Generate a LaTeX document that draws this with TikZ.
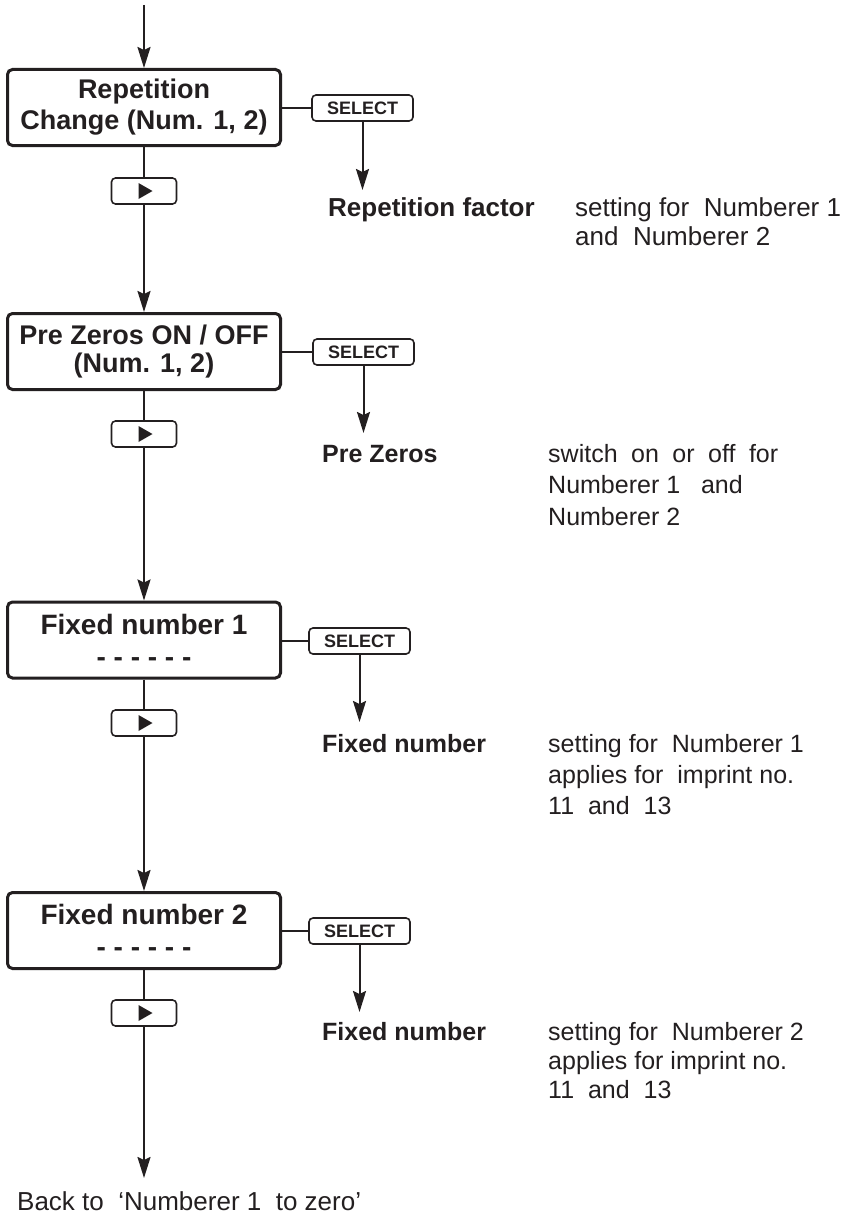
\documentclass[tikz,border=0pt]{standalone}
\usepackage{fontspec}
\setmainfont{Liberation Sans}
\usetikzlibrary{arrows.meta}
\definecolor{ink}{HTML}{231F20}
\newcommand{\mylines}[1]{\begin{tabular}[t]{@{}l@{}}#1\end{tabular}}
\begin{document}
\begin{tikzpicture}[x=1pt,y=-1pt,color=ink,
  mainbox/.style={draw, line width=3pt, rounded corners=5pt, minimum width=273pt, minimum height=76pt, inner sep=0pt, align=center},
  selbox/.style={draw, line width=1.6pt, rounded corners=4pt, minimum width=101pt, minimum height=26pt, inner sep=0pt, font=\fontsize{18}{18}\selectfont\bfseries},
  keybox/.style={draw, line width=1.6pt, rounded corners=4pt, minimum width=65pt, minimum height=26pt, inner sep=0pt,
    path picture={\fill[sharp corners] ([shift={(-5.5pt,8pt)}]path picture bounding box.center) -- ([shift={(8.5pt,0pt)}]path picture bounding box.center) -- ([shift={(-5.5pt,-8pt)}]path picture bounding box.center) -- cycle;}},
  flow/.style={line width=2pt, -{Stealth[length=21pt,width=13pt,inset=3pt]}},
  link/.style={line width=2pt},
  lbl/.style={anchor=base west, inner sep=0pt}
]
\useasboundingbox (0,0) rectangle (854,1215);

% block 1
\coordinate (top) at (144,5);
\node[mainbox, font=\fontsize{27}{31}\selectfont\bfseries] (b1) at (144,107.5) {Repetition\\Change (Num. 1, 2)};
\node[selbox] (s1) at (362.5,108) {SELECT};
\node[keybox] (k1) at (144,191) {};
\coordinate (t1) at (362.5,190);
\node[lbl, font=\fontsize{26}{29}\selectfont\bfseries] (r1) at (328,216) {Repetition factor};
\node[lbl, font=\fontsize{26}{29}\selectfont] (d1) at (575,216) {\mylines{setting for\ \ Numberer 1\\and\ \ Numberer 2}};

% block 2
\node[mainbox, font=\fontsize{27}{28}\selectfont\bfseries] (b2) at (144,351.5) {Pre Zeros ON / OFF\\(Num. 1, 2)};
\node[selbox] (s2) at (363.5,352) {SELECT};
\node[keybox] (k2) at (144,434) {};
\coordinate (t2) at (363.5,433);
\node[lbl, font=\fontsize{25}{31.5}\selectfont\bfseries] (r2) at (322,462) {Pre Zeros};
\node[lbl, font=\fontsize{25}{31.5}\selectfont] (d2) at (548,462) {\mylines{\makebox[230pt][s]{switch on or off for}\\Numberer 1\ \ \ and\\Numberer 2}};

% block 3
\node[mainbox, font=\fontsize{28}{32}\selectfont\bfseries] (b3) at (144,640) {Fixed number 1\\- - - - - -};
\node[selbox] (s3) at (359.5,641) {SELECT};
\node[keybox] (k3) at (144,723) {};
\coordinate (t3) at (359.5,722);
\node[lbl, font=\fontsize{25}{31}\selectfont\bfseries] (r3) at (322,752) {Fixed number};
\node[lbl, font=\fontsize{25}{31}\selectfont] (d3) at (548,752) {\mylines{setting for\ \ Numberer 1\\applies for\ \ imprint no.\\11\ \ and\ \ 13}};

% block 4
\node[mainbox, font=\fontsize{28}{32}\selectfont\bfseries] (b4) at (144,930.5) {Fixed number 2\\- - - - - -};
\node[selbox] (s4) at (359.5,931) {SELECT};
\node[keybox] (k4) at (144,1013) {};
\coordinate (t4) at (359.5,1012);
\node[lbl, font=\fontsize{25}{29}\selectfont\bfseries] (r4) at (322,1040) {Fixed number};
\node[lbl, font=\fontsize{25}{29}\selectfont] (d4) at (548,1040) {\mylines{setting for\ \ Numberer 2\\applies for imprint no.\\11\ \ and\ \ 13}};

\coordinate (bot) at (144,1178);
\node[lbl, font=\fontsize{26}{29}\selectfont] (back) at (17,1210) {Back to\ \ ‘Numberer 1\ \ to zero’};

% main flow
\draw[flow] (top) -- (b1.north);
\draw[link] (b1.south) -- (k1.north);
\draw[flow] (k1.south) -- (b2.north);
\draw[link] (b2.south) -- (k2.north);
\draw[flow] (k2.south) -- (b3.north);
\draw[link] (b3.south) -- (k3.north);
\draw[flow] (k3.south) -- (b4.north);
\draw[link] (b4.south) -- (k4.north);
\draw[flow] (k4.south) -- (bot);

% select branches
\draw[link] (s1.west -| b1.east) -- (s1.west);
\draw[flow] (s1.south) -- (t1);
\draw[link] (s2.west -| b2.east) -- (s2.west);
\draw[flow] (s2.south) -- (t2);
\draw[link] (s3.west -| b3.east) -- (s3.west);
\draw[flow] (s3.south) -- (t3);
\draw[link] (s4.west -| b4.east) -- (s4.west);
\draw[flow] (s4.south) -- (t4);
\end{tikzpicture}
\end{document}
